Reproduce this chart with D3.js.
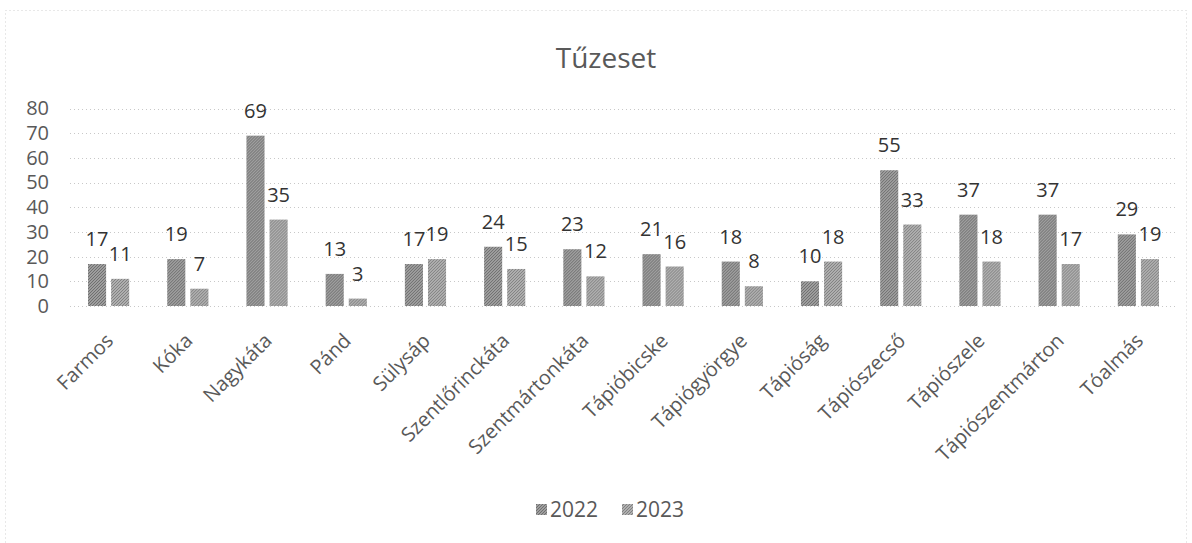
<!DOCTYPE html>
<html>
<head>
<meta charset="utf-8">
<script src="https://cdn.jsdelivr.net/npm/d3@7"></script>
<style>
  html, body { margin: 0; padding: 0; background: #fff; }
  svg { display: block; }
</style>
</head>
<body>
<script>
const categories = ["Farmos","Kóka","Nagykáta","Pánd","Sülysáp","Szentlőrinckáta","Szentmártonkáta","Tápióbicske","Tápiógyörgye","Tápióság","Tápiószecső","Tápiószele","Tápiószentmárton","Tóalmás"];
const series = ["2022","2023"];
const values2022 = [17,19,69,13,17,24,23,21,18,10,55,37,37,29];
const values2023 = [11,7,35,3,19,15,12,16,8,18,33,18,17,19];
const yTicks = [0,10,20,30,40,50,60,70,80];
const title = "Tűzeset";

const W = 1192, H = 543;
const FONT = "'Open Sans', 'DejaVu Sans', sans-serif";
const svg = d3.select("body").append("svg").attr("width", W).attr("height", H);

// patterns to mimic dithered gray
const defs = svg.append("defs");
function pat(id, base, dot) {
  const p = defs.append("pattern").attr("id", id).attr("width", 3).attr("height", 3).attr("patternUnits", "userSpaceOnUse");
  p.append("rect").attr("width", 3).attr("height", 3).attr("fill", base);
  p.append("rect").attr("x", 0).attr("y", 0).attr("width", 1).attr("height", 1).attr("fill", dot);
  p.append("rect").attr("x", 2).attr("y", 1).attr("width", 1).attr("height", 1).attr("fill", dot);
  p.append("rect").attr("x", 1).attr("y", 2).attr("width", 1).attr("height", 1).attr("fill", dot);
}
pat("p2022", "#9e9e9e", "#6e6e6e");
pat("p2023", "#afafaf", "#808080");
const fills = {"2022": "url(#p2022)", "2023": "url(#p2023)"};

// chart border (faint dotted)
svg.append("rect").attr("x", 5.5).attr("y", 10.5).attr("width", W - 11).attr("height", H - 6)
  .attr("fill", "none").attr("stroke", "#d0d0d0").attr("stroke-width", 1).attr("stroke-dasharray", "1,3");

// title
svg.append("text").attr("x", 606).attr("y", 68).attr("text-anchor", "middle")
  .attr("font-family", FONT).attr("font-size", 28).attr("fill", "#595959").text(title);

const x0 = d3.scaleBand().domain(categories).range([69, 1178]).paddingInner(0.48).paddingOuter(0.24);
const x1 = d3.scaleBand().domain(series).range([0, x0.bandwidth()]).paddingInner(0.217).paddingOuter(0);
const y = d3.scaleLinear().domain([0, 80]).range([306, 108.5]);

// gridlines
svg.append("g").selectAll("line").data(yTicks).join("line")
  .attr("x1", 70).attr("x2", 1178)
  .attr("y1", d => Math.round(y(d)) + 0.5).attr("y2", d => Math.round(y(d)) + 0.5)
  .attr("stroke", "#c8c8c8").attr("stroke-width", 1).attr("stroke-dasharray", "1,3");

// y axis labels
const yAxis = d3.axisLeft(y).tickValues(yTicks).tickSize(0).tickPadding(0);
const yg = svg.append("g").attr("transform", "translate(49,0)").call(yAxis);
yg.select(".domain").remove();
yg.selectAll("text").attr("font-family", FONT).attr("font-size", 20).attr("fill", "#595959");

// bars
const rows = categories.map((c, i) => ({c, vals: [{s: "2022", v: values2022[i]}, {s: "2023", v: values2023[i]}]}));
const groups = svg.append("g").selectAll("g").data(rows).join("g")
  .attr("transform", d => `translate(${x0(d.c)},0)`);
groups.selectAll("rect").data(d => d.vals).join("rect")
  .attr("x", d => x1(d.s)).attr("width", x1.bandwidth())
  .attr("y", d => y(d.v)).attr("height", d => y(0) - y(d.v))
  .attr("fill", d => fills[d.s]);
groups.selectAll("text").data(d => d.vals).join("text")
  .attr("x", d => x1(d.s) + x1.bandwidth() / 2)
  .attr("y", d => y(d.v) - 18)
  .attr("text-anchor", "middle")
  .attr("font-family", FONT).attr("font-size", 20).attr("fill", "#333333")
  .text(d => d.v);

// x axis labels
const xAxis = d3.axisBottom(x0).tickSize(0).tickPadding(0);
const xg = svg.append("g").attr("transform", "translate(0,306)").call(xAxis);
xg.select(".domain").remove();
xg.selectAll("text")
  .attr("font-family", FONT).attr("font-size", 20).attr("fill", "#595959")
  .attr("text-anchor", "end").attr("dy", 0)
  .attr("transform", "translate(6,36) rotate(-45)");

// legend
const legend = svg.append("g").attr("transform", "translate(536,510)");
const lx = [0, 86];
series.forEach((s, i) => {
  legend.append("rect").attr("x", lx[i]).attr("y", -6).attr("width", 11).attr("height", 11).attr("fill", fills[s]);
  legend.append("text").attr("x", lx[i] + 14).attr("y", 7)
    .attr("font-family", FONT).attr("font-size", 21).attr("fill", "#595959").text(s);
});
</script>
</body>
</html>
